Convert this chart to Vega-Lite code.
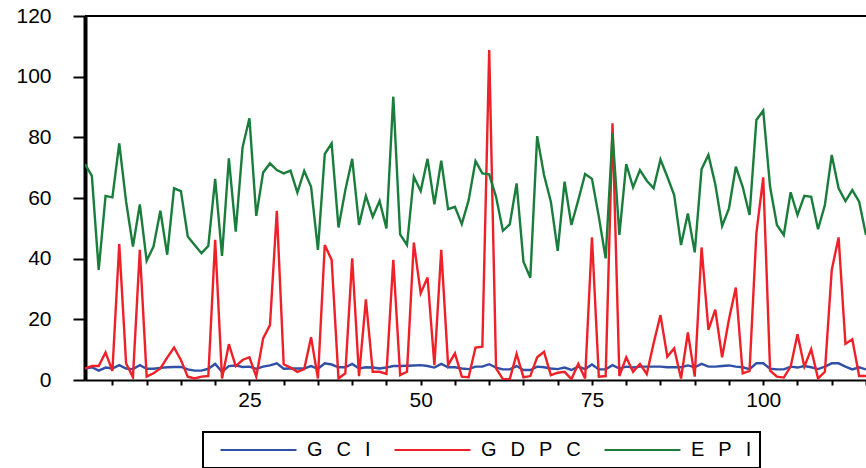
{
"$schema": "https://vega.github.io/schema/vega-lite/v6.json",
"width": 781, "height": 364,
"autosize": {"type": "none"},
"padding": {"left": 85, "top": 16, "right": 0, "bottom": 88},
"background": "white",
"config": {"view": {"stroke": null}, "font": "Liberation Sans", "legend": {"strokeWidth": 2}},
"data": {"values": [
{"n":1,"GCI":3.8,"GDPC":3.8,"EPI":71.2},
{"n":2,"GCI":4.2,"GDPC":4.6,"EPI":67.3},
{"n":3,"GCI":3.1,"GDPC":4.6,"EPI":36.3},
{"n":4,"GCI":4.1,"GDPC":9.1,"EPI":60.7},
{"n":5,"GCI":3.8,"GDPC":3.0,"EPI":60.2},
{"n":6,"GCI":4.9,"GDPC":44.8,"EPI":78.0},
{"n":7,"GCI":3.8,"GDPC":5.5,"EPI":58.8},
{"n":8,"GCI":3.6,"GDPC":0.9,"EPI":44.0},
{"n":9,"GCI":4.9,"GDPC":42.9,"EPI":57.9},
{"n":10,"GCI":3.7,"GDPC":1.1,"EPI":39.3},
{"n":11,"GCI":3.7,"GDPC":2.2,"EPI":44.0},
{"n":12,"GCI":4.0,"GDPC":3.8,"EPI":55.8},
{"n":13,"GCI":4.2,"GDPC":7.4,"EPI":41.3},
{"n":14,"GCI":4.3,"GDPC":10.7,"EPI":63.2},
{"n":15,"GCI":4.3,"GDPC":6.6,"EPI":62.3},
{"n":16,"GCI":3.5,"GDPC":1.1,"EPI":47.3},
{"n":17,"GCI":3.1,"GDPC":0.5,"EPI":44.5},
{"n":18,"GCI":3.1,"GDPC":1.1,"EPI":41.8},
{"n":19,"GCI":3.7,"GDPC":1.3,"EPI":44.2},
{"n":20,"GCI":5.3,"GDPC":46.2,"EPI":66.3},
{"n":21,"GCI":2.7,"GDPC":0.5,"EPI":40.9},
{"n":22,"GCI":4.6,"GDPC":11.8,"EPI":73.1},
{"n":23,"GCI":4.8,"GDPC":4.6,"EPI":48.9},
{"n":24,"GCI":4.3,"GDPC":6.6,"EPI":76.7},
{"n":25,"GCI":4.4,"GDPC":7.5,"EPI":86.3},
{"n":26,"GCI":3.7,"GDPC":1.1,"EPI":54.1},
{"n":27,"GCI":4.4,"GDPC":13.7,"EPI":68.4},
{"n":28,"GCI":4.8,"GDPC":18.1,"EPI":71.4},
{"n":29,"GCI":5.5,"GDPC":55.8,"EPI":69.2},
{"n":30,"GCI":3.7,"GDPC":5.2,"EPI":68.1},
{"n":31,"GCI":3.8,"GDPC":4.1,"EPI":69.0},
{"n":32,"GCI":3.8,"GDPC":2.7,"EPI":61.8},
{"n":33,"GCI":3.8,"GDPC":3.6,"EPI":68.9},
{"n":34,"GCI":4.6,"GDPC":14.1,"EPI":63.7},
{"n":35,"GCI":3.7,"GDPC":0.5,"EPI":42.9},
{"n":36,"GCI":5.5,"GDPC":44.5,"EPI":74.5},
{"n":37,"GCI":5.1,"GDPC":39.6,"EPI":78.0},
{"n":38,"GCI":4.2,"GDPC":0.5,"EPI":50.3},
{"n":39,"GCI":4.2,"GDPC":2.2,"EPI":62.6},
{"n":40,"GCI":5.3,"GDPC":40.1,"EPI":72.9},
{"n":41,"GCI":3.8,"GDPC":1.3,"EPI":51.1},
{"n":42,"GCI":4.2,"GDPC":26.6,"EPI":60.7},
{"n":43,"GCI":4.1,"GDPC":2.7,"EPI":53.8},
{"n":44,"GCI":3.8,"GDPC":2.7,"EPI":59.0},
{"n":45,"GCI":4.1,"GDPC":2.0,"EPI":50.0},
{"n":46,"GCI":4.6,"GDPC":39.6,"EPI":93.4},
{"n":47,"GCI":4.6,"GDPC":1.6,"EPI":48.0},
{"n":48,"GCI":4.7,"GDPC":2.7,"EPI":44.5},
{"n":49,"GCI":4.8,"GDPC":45.3,"EPI":67.0},
{"n":50,"GCI":4.9,"GDPC":28.6,"EPI":62.3},
{"n":51,"GCI":4.6,"GDPC":33.8,"EPI":72.9},
{"n":52,"GCI":4.1,"GDPC":4.9,"EPI":57.9},
{"n":53,"GCI":5.3,"GDPC":42.9,"EPI":72.3},
{"n":54,"GCI":4.2,"GDPC":4.9,"EPI":56.3},
{"n":55,"GCI":4.2,"GDPC":8.8,"EPI":57.1},
{"n":56,"GCI":3.8,"GDPC":1.1,"EPI":51.4},
{"n":57,"GCI":3.6,"GDPC":0.9,"EPI":59.3},
{"n":58,"GCI":4.4,"GDPC":10.7,"EPI":72.2},
{"n":59,"GCI":4.4,"GDPC":11.0,"EPI":68.1},
{"n":60,"GCI":5.2,"GDPC":108.8,"EPI":67.8},
{"n":61,"GCI":4.1,"GDPC":3.8,"EPI":60.4},
{"n":62,"GCI":3.5,"GDPC":0.3,"EPI":49.2},
{"n":63,"GCI":3.5,"GDPC":0.3,"EPI":51.3},
{"n":64,"GCI":4.6,"GDPC":8.6,"EPI":64.8},
{"n":65,"GCI":3.3,"GDPC":0.9,"EPI":39.0},
{"n":66,"GCI":3.3,"GDPC":1.3,"EPI":33.7},
{"n":67,"GCI":4.4,"GDPC":7.5,"EPI":80.4},
{"n":68,"GCI":4.2,"GDPC":9.3,"EPI":67.6},
{"n":69,"GCI":3.8,"GDPC":1.6,"EPI":58.8},
{"n":70,"GCI":3.6,"GDPC":2.4,"EPI":42.6},
{"n":71,"GCI":4.1,"GDPC":2.7,"EPI":65.4},
{"n":72,"GCI":3.3,"GDPC":0.3,"EPI":51.1},
{"n":73,"GCI":4.4,"GDPC":5.3,"EPI":59.3},
{"n":74,"GCI":3.6,"GDPC":0.5,"EPI":67.9},
{"n":75,"GCI":5.1,"GDPC":47.0,"EPI":66.3},
{"n":76,"GCI":3.5,"GDPC":1.1,"EPI":53.8},
{"n":77,"GCI":3.5,"GDPC":1.3,"EPI":40.1},
{"n":78,"GCI":4.9,"GDPC":84.6,"EPI":81.3},
{"n":79,"GCI":3.8,"GDPC":1.3,"EPI":47.8},
{"n":80,"GCI":4.4,"GDPC":7.5,"EPI":71.2},
{"n":81,"GCI":4.1,"GDPC":2.7,"EPI":63.5},
{"n":82,"GCI":4.4,"GDPC":5.3,"EPI":69.2},
{"n":83,"GCI":4.4,"GDPC":2.0,"EPI":65.7},
{"n":84,"GCI":4.4,"GDPC":12.1,"EPI":63.2},
{"n":85,"GCI":4.4,"GDPC":21.4,"EPI":72.7},
{"n":86,"GCI":4.2,"GDPC":7.7,"EPI":67.0},
{"n":87,"GCI":4.2,"GDPC":10.4,"EPI":61.0},
{"n":88,"GCI":4.2,"GDPC":0.5,"EPI":44.5},
{"n":89,"GCI":4.8,"GDPC":15.7,"EPI":54.9},
{"n":90,"GCI":4.2,"GDPC":1.1,"EPI":42.1},
{"n":91,"GCI":5.3,"GDPC":43.7,"EPI":69.5},
{"n":92,"GCI":4.4,"GDPC":16.5,"EPI":74.2},
{"n":93,"GCI":4.4,"GDPC":23.2,"EPI":64.5},
{"n":94,"GCI":4.6,"GDPC":7.5,"EPI":50.8},
{"n":95,"GCI":4.8,"GDPC":20.0,"EPI":56.6},
{"n":96,"GCI":4.4,"GDPC":30.5,"EPI":70.3},
{"n":97,"GCI":4.2,"GDPC":2.2,"EPI":63.7},
{"n":98,"GCI":3.6,"GDPC":3.0,"EPI":54.4},
{"n":99,"GCI":5.5,"GDPC":48.4,"EPI":85.7},
{"n":100,"GCI":5.5,"GDPC":66.8,"EPI":88.8},
{"n":101,"GCI":3.7,"GDPC":3.1,"EPI":63.7},
{"n":102,"GCI":3.5,"GDPC":1.1,"EPI":51.1},
{"n":103,"GCI":3.5,"GDPC":0.8,"EPI":47.8},
{"n":104,"GCI":4.4,"GDPC":4.4,"EPI":61.9},
{"n":105,"GCI":4.1,"GDPC":15.1,"EPI":54.4},
{"n":106,"GCI":4.6,"GDPC":4.4,"EPI":60.7},
{"n":107,"GCI":4.2,"GDPC":10.1,"EPI":60.4},
{"n":108,"GCI":3.6,"GDPC":0.5,"EPI":49.7},
{"n":109,"GCI":4.4,"GDPC":2.7,"EPI":57.7},
{"n":110,"GCI":5.5,"GDPC":36.3,"EPI":74.2},
{"n":111,"GCI":5.5,"GDPC":47.0,"EPI":63.2},
{"n":112,"GCI":4.4,"GDPC":11.9,"EPI":59.0},
{"n":113,"GCI":3.5,"GDPC":13.4,"EPI":62.6},
{"n":114,"GCI":4.2,"GDPC":1.3,"EPI":58.8},
{"n":115,"GCI":3.5,"GDPC":1.3,"EPI":47.8}
]},
"layer": [
{
"transform": [{"fold": ["GCI", "GDPC", "EPI"], "as": ["series", "value"]}],
"mark": {"type": "line", "strokeWidth": 2.4, "clip": true},
"encoding": {
"x": {"field": "n", "type": "quantitative",
"scale": {"domain": [1, 115], "nice": false, "zero": false},
"axis": {"values": [5,10,15,20,25,30,35,40,45,50,55,60,65,70,75,80,85,90,95,100,105,110,115],
"labelExpr": "datum.value % 25 == 0 ? datum.label : ''",
"title": null, "grid": false, "domainWidth": 2, "domainColor": "black",
"tickColor": "black", "tickWidth": 2, "tickSize": 5,
"labelFontSize": 21, "labelColor": "black", "labelPadding": 4, "labelFlush": false, "labelOverlap": false}},
"y": {"field": "value", "type": "quantitative",
"scale": {"domain": [0, 120], "nice": false},
"axis": {"values": [0,20,40,60,80,100,120], "title": null, "grid": false,
"domainWidth": 4, "domainColor": "black", "tickSize": 12, "tickWidth": 2, "tickColor": "black",
"labelFontSize": 21, "labelPadding": 22, "labelColor": "black"}},
"color": {"field": "series", "type": "nominal",
"scale": {"domain": ["GCI", "GDPC", "EPI"], "range": ["#3050A8", "#EE2028", "#1A7D3C"]},
"legend": {"orient": "none", "legendX": 118, "legendY": 416, "direction": "horizontal",
"title": null, "symbolType": "M-1,0H7.94", "symbolSize": 289, "symbolStrokeWidth": 2,
"labelFontSize": 20, "labelOffset": 68, "columnPadding": 14, "padding": 8, "symbolOffset": 8,
"strokeColor": "black", "fillColor": "white", "labelColor": "black",
"labelExpr": "datum.label == 'GCI' ? 'G\u2002\u2009C\u2002\u2009I' : datum.label == 'GDPC' ? 'G\u2002\u2009D\u2002\u2009P\u2002\u2009C' : 'E\u2002\u2009P\u2002\u2009I '"}}
}
},
{"mark": {"type": "rule", "color": "black", "strokeWidth": 2}, "encoding": {"y": {"datum": 120}}}
]
}
